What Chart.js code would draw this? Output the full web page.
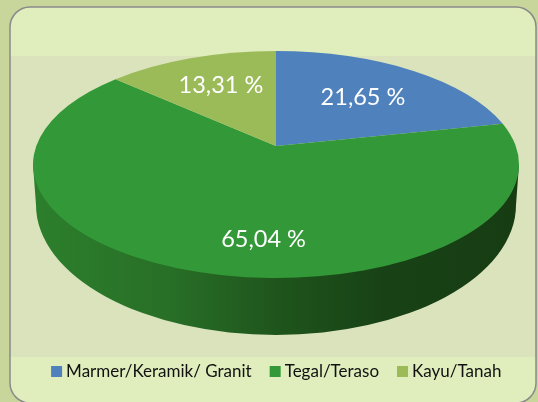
<!DOCTYPE html>
<html>
<head>
<meta charset="utf-8">
<style>html,body{margin:0;padding:0;background:#c8d59b}canvas{display:block}</style>
<script src="https://cdn.jsdelivr.net/npm/chart.js@4"></script>
</head>
<body>
<canvas id="c" width="538" height="402"></canvas>
<script>
const categories = ['Marmer/Keramik/ Granit', 'Tegal/Teraso', 'Kayu/Tanah'];
const shares = [21.65, 65.04, 13.31];
const sliceColors = ['#4f81bd', '#339938', '#9bbb59'];
const labelNudge = [[-1, 2], [31, 19], [1, -2]];

const TOP = {rx: 243, ry: 113.5, cy: 164.5, tilt: 0.163};
const BOTTOM = {rx: 240, ry: 130, cy: 205};
const LABEL_FRACTION = 0.63;
const PIE_SHIFT = -2.5;

function project(phi, f) {
  const x = f * Math.sin(phi), y = f * Math.cos(phi);
  const k = Math.sqrt(1 - TOP.tilt * TOP.tilt), d = 1 + TOP.tilt * y;
  return {u: x * k / d, v: (y + TOP.tilt) / d};
}

const pie3d = {
  id: 'pie3d',
  beforeDraw(chart) {
    const c = chart.ctx;
    c.save();
    c.fillStyle = '#c8d59b';
    c.fillRect(0, 0, 538, 402);
    c.beginPath();
    c.roundRect(10, 7, 526, 396, 20);
    c.fillStyle = '#e0edbd';
    c.fill();
    c.save();
    c.clip();
    c.fillStyle = '#dbe3bd';
    c.fillRect(10, 56, 526, 301);
    c.restore();
    c.strokeStyle = '#8a8a8a';
    c.lineWidth = 1.5;
    c.stroke();
    c.restore();
  },
  beforeDatasetDraw(chart) {
    const c = chart.ctx, arcs = chart.getDatasetMeta(0).data, cx = arcs[0].x + PIE_SHIFT;
    c.save();
    const g = c.createLinearGradient(cx - TOP.rx, 0, cx + TOP.rx, 0);
    g.addColorStop(0, '#2c7f2c');
    g.addColorStop(0.28, '#286f27');
    g.addColorStop(0.5, '#1f551c');
    g.addColorStop(0.72, '#184216');
    g.addColorStop(1, '#173c13');
    c.beginPath();
    c.moveTo(cx - TOP.rx, TOP.cy);
    c.ellipse(cx, BOTTOM.cy, BOTTOM.rx, BOTTOM.ry, 0, Math.PI, 0, true);
    c.lineTo(cx + TOP.rx, TOP.cy);
    c.closePath();
    c.fillStyle = g;
    c.fill();

    const apexY = TOP.cy - TOP.tilt * TOP.ry;
    arcs.forEach((a, i) => {
      const s = project(a.startAngle + Math.PI / 2, 1);
      const e = project(a.endAngle + Math.PI / 2, 1);
      c.beginPath();
      c.moveTo(cx, apexY);
      c.ellipse(cx, TOP.cy, TOP.rx, TOP.ry, 0, Math.atan2(-s.v, s.u), Math.atan2(-e.v, e.u));
      c.closePath();
      c.fillStyle = sliceColors[i];
      c.fill();
    });

    c.fillStyle = '#ffffff';
    c.font = '23.5px Lato';
    c.textAlign = 'center';
    c.textBaseline = 'middle';
    arcs.forEach((a, i) => {
      const m = project((a.startAngle + a.endAngle) / 2 + Math.PI / 2, LABEL_FRACTION);
      const text = shares[i].toFixed(2).replace('.', ',') + ' %';
      c.fillText(text, cx + m.u * TOP.rx + labelNudge[i][0], TOP.cy - m.v * TOP.ry + labelNudge[i][1]);
    });
    c.restore();
    return false;
  }
};

new Chart(document.getElementById('c'), {
  type: 'pie',
  data: {
    labels: categories,
    datasets: [{data: shares, backgroundColor: sliceColors, borderWidth: 0}]
  },
  plugins: [pie3d],
  options: {
    responsive: false,
    animation: false,
    layout: {padding: {left: 19, right: 0, top: 0, bottom: 12}},
    plugins: {
      tooltip: {enabled: false},
      legend: {
        position: 'bottom',
        labels: {
          usePointStyle: true,
          pointStyle: 'rect',
          boxWidth: 2, boxHeight: 11, padding: 22.5,
          color: '#111111',
          font: {family: 'Lato', size: 17}
        }
      }
    }
  }
});
</script>
</body>
</html>
